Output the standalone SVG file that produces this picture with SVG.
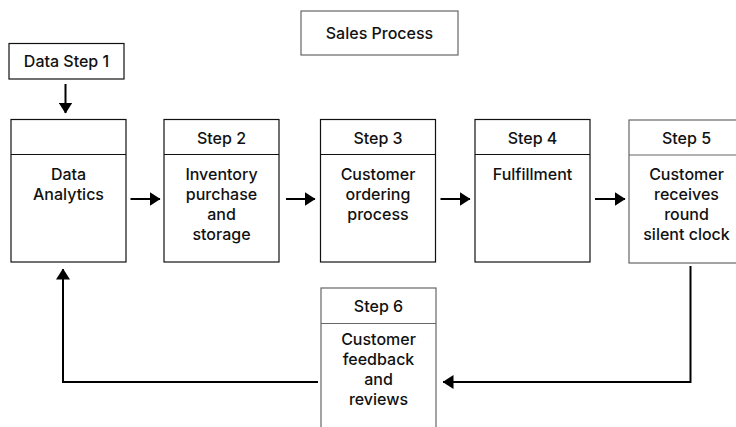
<svg xmlns="http://www.w3.org/2000/svg" width="736" height="427" viewBox="0 0 736 427">
  <style>
    .box { fill: #ffffff; stroke: #111111; stroke-width: 1.2; }
    .box.soft { stroke: #666666; }
    .div { stroke: #111111; stroke-width: 1.2; }
    .div.soft { stroke: #666666; }
    text { font-family: Inter, "Liberation Sans", Arial, sans-serif; font-weight: 500; font-size: 16px; fill: #111111; text-anchor: middle; }
    .edge { fill: none; stroke: #000000; stroke-width: 2; }
  </style>
  <defs>
    <marker id="arrow" viewBox="0 0 11 14" refX="10.5" refY="7" markerWidth="11" markerHeight="14" markerUnits="userSpaceOnUse" orient="auto">
      <path d="M0,0 L11,7 L0,14 Z" fill="#000000"/>
    </marker>
  </defs>
  <rect width="736" height="427" fill="#ffffff"/>

  <g id="title">
    <rect class="box soft" x="301" y="11" width="157" height="44"/>
    <text x="379.5" y="39">Sales Process</text>
  </g>

  <g id="data-step-1">
    <rect class="box" x="9" y="43.5" width="115" height="35.5"/>
    <text x="66.5" y="67">Data Step 1</text>
  </g>

  <g id="data-analytics">
    <rect class="box" x="11" y="119.5" width="115" height="142.5"/>
    <line class="div" x1="11" y1="154.5" x2="126" y2="154.5"/>
    <text x="68.5" y="180">Data</text>
    <text x="68.5" y="200">Analytics</text>
  </g>

  <g id="step-2">
    <rect class="box" x="164" y="119.5" width="115" height="142.5"/>
    <line class="div" x1="164" y1="154.5" x2="279" y2="154.5"/>
    <text x="221.5" y="144">Step 2</text>
    <text x="221.5" y="180">Inventory</text>
    <text x="221.5" y="200">purchase</text>
    <text x="221.5" y="220">and</text>
    <text x="221.5" y="240">storage</text>
  </g>

  <g id="step-3">
    <rect class="box" x="320.5" y="119.5" width="115" height="142.5"/>
    <line class="div" x1="320.5" y1="154.5" x2="435.5" y2="154.5"/>
    <text x="378" y="144">Step 3</text>
    <text x="378" y="180">Customer</text>
    <text x="378" y="200">ordering</text>
    <text x="378" y="220">process</text>
  </g>

  <g id="step-4">
    <rect class="box" x="475" y="119.5" width="115" height="142.5"/>
    <line class="div" x1="475" y1="154.5" x2="590" y2="154.5"/>
    <text x="532.5" y="144">Step 4</text>
    <text x="532.5" y="180">Fulfillment</text>
  </g>

  <g id="step-5">
    <rect class="box soft" x="629" y="120" width="115" height="143"/>
    <line class="div soft" x1="629" y1="155" x2="744" y2="155"/>
    <text x="686.5" y="144">Step 5</text>
    <text x="686.5" y="180">Customer</text>
    <text x="686.5" y="200">receives</text>
    <text x="686.5" y="220">round</text>
    <text x="686.5" y="240">silent clock</text>
  </g>

  <g id="step-6">
    <rect class="box soft" x="321" y="288" width="115" height="143"/>
    <line class="div soft" x1="321" y1="323.5" x2="436" y2="323.5"/>
    <text x="378.5" y="312">Step 6</text>
    <text x="378.5" y="345">Customer</text>
    <text x="378.5" y="365">feedback</text>
    <text x="378.5" y="385">and</text>
    <text x="378.5" y="405">reviews</text>
  </g>

  <g id="connectors">
    <line class="edge" x1="65.5" y1="84" x2="65.5" y2="113" marker-end="url(#arrow)"/>
    <line class="edge" x1="130.5" y1="199" x2="160" y2="199" marker-end="url(#arrow)"/>
    <line class="edge" x1="286" y1="199" x2="315" y2="199" marker-end="url(#arrow)"/>
    <line class="edge" x1="440.5" y1="199" x2="470" y2="199" marker-end="url(#arrow)"/>
    <line class="edge" x1="595" y1="199" x2="625" y2="199" marker-end="url(#arrow)"/>
    <polyline class="edge" points="690.5,266 690.5,382 443,382" marker-end="url(#arrow)"/>
    <polyline class="edge" points="318,382 63,382 63,269" marker-end="url(#arrow)"/>
  </g>
</svg>
